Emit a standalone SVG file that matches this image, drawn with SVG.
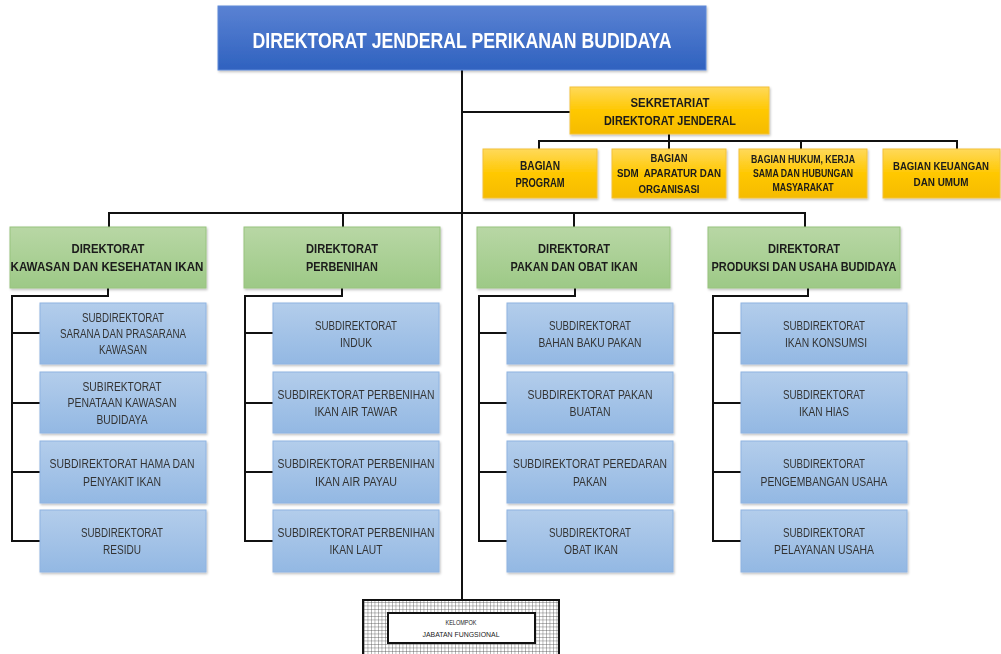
<svg xmlns="http://www.w3.org/2000/svg" width="1001" height="654" viewBox="0 0 1001 654">
<style>
text{font-family:"Liberation Sans",Arial,sans-serif;text-anchor:middle}
.title{font-size:22px;font-weight:bold;fill:#fff}
.gold{font-size:13px;font-weight:bold;fill:#1a1a1a}
.gold-s{font-size:11.5px;font-weight:bold;fill:#1a1a1a}
.gold-k{font-size:11px;font-weight:bold;fill:#1a1a1a}
.green{font-size:13px;font-weight:bold;fill:#1a1a1a}
.sub{font-size:12.5px;fill:#333}
.kel{font-size:8px;fill:#222}
.ln{stroke:#111;stroke-width:2;fill:none}
.goldbox{fill:url(#gGold);stroke:#f3c23a;stroke-width:1}
.greenbox{fill:url(#gGreen);stroke:#98c47f;stroke-width:1}
.subbox{fill:url(#gBlue);stroke:#8fb4e2;stroke-width:1}
</style>
<defs>
<linearGradient id="gTitle" x1="0" y1="0" x2="0" y2="1"><stop offset="0" stop-color="#5a82d3"/><stop offset="1" stop-color="#2f62bf"/></linearGradient>
<linearGradient id="gGold" x1="0" y1="0" x2="0" y2="1"><stop offset="0" stop-color="#ffd95a"/><stop offset="0.5" stop-color="#ffc800"/><stop offset="1" stop-color="#f5bb00"/></linearGradient>
<linearGradient id="gGreen" x1="0" y1="0" x2="0" y2="1"><stop offset="0" stop-color="#b8d7a5"/><stop offset="1" stop-color="#9dc986"/></linearGradient>
<linearGradient id="gBlue" x1="0" y1="0" x2="0" y2="1"><stop offset="0" stop-color="#b3cdeb"/><stop offset="1" stop-color="#93b8e3"/></linearGradient>
<pattern id="grid" width="3.5" height="3.5" patternUnits="userSpaceOnUse"><rect width="3.5" height="3.5" fill="#fff"/><path d="M0 0H3.5M0 0V3.5" stroke="#555" stroke-width="0.8"/></pattern>
<filter id="sh" x="-5%" y="-5%" width="110%" height="120%"><feDropShadow dx="1" dy="1.5" stdDeviation="1" flood-color="#000" flood-opacity="0.25"/></filter>
</defs>
<rect width="1001" height="654" fill="#fff"/>

<g id="connectors" class="ln">
<path d="M462 70V600"/>
<path d="M462 112H570"/>
<path d="M669 134V141M539 149V141H957V149M669 141V149M801 141V149"/>
<path d="M109 227V213H805V227M343 213V227M574 213V227"/>
<path d="M108 288V296H12V541H40M12 333H40M12 403H40M12 472H40"/>
<path d="M342 288V296H245V541H273M245 333H273M245 403H273M245 472H273"/>
<path d="M575 288V296H479V541H507M479 333H507M479 403H507M479 472H507"/>
<path d="M808 288V296H713V541H741M713 333H741M713 403H741M713 472H741"/>
</g>

<g id="dirjen" filter="url(#sh)"><rect x="218" y="6" width="488" height="64" fill="url(#gTitle)" stroke="#5f8ad8" stroke-width="1"/><text class="title" x="462" y="48" textLength="419" lengthAdjust="spacingAndGlyphs">DIREKTORAT JENDERAL PERIKANAN BUDIDAYA</text></g>

<g id="sekretariat" filter="url(#sh)"><rect class="goldbox" x="570" y="87" width="199" height="47"/><text class="gold" x="670" y="107" textLength="79" lengthAdjust="spacingAndGlyphs">SEKRETARIAT</text><text class="gold" x="670" y="125" textLength="132" lengthAdjust="spacingAndGlyphs">DIREKTORAT JENDERAL</text></g>

<g id="bagian-program" filter="url(#sh)"><rect class="goldbox" x="483" y="149" width="114" height="49"/><text class="gold" x="540" y="170" textLength="40" lengthAdjust="spacingAndGlyphs">BAGIAN</text><text class="gold" x="540" y="187" textLength="49" lengthAdjust="spacingAndGlyphs">PROGRAM</text></g>
<g id="bagian-sdm" filter="url(#sh)"><rect class="goldbox" x="612" y="149" width="114" height="49"/><text class="gold-s" x="669" y="162" textLength="37" lengthAdjust="spacingAndGlyphs">BAGIAN</text><text class="gold-s" x="669" y="177" textLength="104" lengthAdjust="spacingAndGlyphs" xml:space="preserve">SDM  APARATUR DAN</text><text class="gold-s" x="669" y="193" textLength="61" lengthAdjust="spacingAndGlyphs">ORGANISASI</text></g>
<g id="bagian-hukum" filter="url(#sh)"><rect class="goldbox" x="739" y="149" width="128" height="49"/><text class="gold-s" x="803" y="163" textLength="104" lengthAdjust="spacingAndGlyphs">BAGIAN HUKUM, KERJA</text><text class="gold-s" x="803" y="177" textLength="100" lengthAdjust="spacingAndGlyphs">SAMA DAN HUBUNGAN</text><text class="gold-s" x="803" y="191" textLength="61" lengthAdjust="spacingAndGlyphs">MASYARAKAT</text></g>
<g id="bagian-keuangan" filter="url(#sh)"><rect class="goldbox" x="883" y="149" width="117" height="49"/><text class="gold-k" x="941" y="170" textLength="96" lengthAdjust="spacingAndGlyphs">BAGIAN KEUANGAN</text><text class="gold-k" x="941" y="186" textLength="55" lengthAdjust="spacingAndGlyphs">DAN UMUM</text></g>

<g id="dir-kawasan" filter="url(#sh)"><rect class="greenbox" x="10" y="227" width="196" height="61"/><text class="green" x="108" y="253" textLength="73" lengthAdjust="spacingAndGlyphs">DIREKTORAT</text><text class="green" x="107" y="271" textLength="193" lengthAdjust="spacingAndGlyphs">KAWASAN DAN KESEHATAN IKAN</text></g>
<g id="dir-perbenihan" filter="url(#sh)"><rect class="greenbox" x="244" y="227" width="196" height="61"/><text class="green" x="342" y="253" textLength="72" lengthAdjust="spacingAndGlyphs">DIREKTORAT</text><text class="green" x="342" y="271" textLength="72" lengthAdjust="spacingAndGlyphs">PERBENIHAN</text></g>
<g id="dir-pakan" filter="url(#sh)"><rect class="greenbox" x="477" y="227" width="193" height="61"/><text class="green" x="574" y="253" textLength="72" lengthAdjust="spacingAndGlyphs">DIREKTORAT</text><text class="green" x="574" y="271" textLength="127" lengthAdjust="spacingAndGlyphs">PAKAN DAN OBAT IKAN</text></g>
<g id="dir-produksi" filter="url(#sh)"><rect class="greenbox" x="708" y="227" width="192" height="61"/><text class="green" x="804" y="253" textLength="72" lengthAdjust="spacingAndGlyphs">DIREKTORAT</text><text class="green" x="804" y="271" textLength="185" lengthAdjust="spacingAndGlyphs">PRODUKSI DAN USAHA BUDIDAYA</text></g>

<g id="sub-a1" filter="url(#sh)"><rect class="subbox" x="40" y="303" width="166" height="61"/><text class="sub" x="123" y="322" textLength="82" lengthAdjust="spacingAndGlyphs">SUBDIREKTORAT</text><text class="sub" x="123" y="338" textLength="126" lengthAdjust="spacingAndGlyphs">SARANA DAN PRASARANA</text><text class="sub" x="123" y="354" textLength="48" lengthAdjust="spacingAndGlyphs">KAWASAN</text></g>
<g id="sub-a2" filter="url(#sh)"><rect class="subbox" x="40" y="372" width="166" height="61"/><text class="sub" x="122" y="391" textLength="79" lengthAdjust="spacingAndGlyphs">SUBIREKTORAT</text><text class="sub" x="122" y="407" textLength="109" lengthAdjust="spacingAndGlyphs">PENATAAN KAWASAN</text><text class="sub" x="122" y="424" textLength="51" lengthAdjust="spacingAndGlyphs">BUDIDAYA</text></g>
<g id="sub-a3" filter="url(#sh)"><rect class="subbox" x="40" y="441" width="166" height="62"/><text class="sub" x="122" y="468" textLength="145" lengthAdjust="spacingAndGlyphs">SUBDIREKTORAT HAMA DAN</text><text class="sub" x="122" y="486" textLength="78" lengthAdjust="spacingAndGlyphs">PENYAKIT IKAN</text></g>
<g id="sub-a4" filter="url(#sh)"><rect class="subbox" x="40" y="510" width="166" height="62"/><text class="sub" x="122" y="537" textLength="82" lengthAdjust="spacingAndGlyphs">SUBDIREKTORAT</text><text class="sub" x="122" y="554" textLength="38" lengthAdjust="spacingAndGlyphs">RESIDU</text></g>

<g id="sub-b1" filter="url(#sh)"><rect class="subbox" x="273" y="303" width="166" height="61"/><text class="sub" x="356" y="330" textLength="82" lengthAdjust="spacingAndGlyphs">SUBDIREKTORAT</text><text class="sub" x="356" y="347" textLength="32" lengthAdjust="spacingAndGlyphs">INDUK</text></g>
<g id="sub-b2" filter="url(#sh)"><rect class="subbox" x="273" y="372" width="166" height="61"/><text class="sub" x="356" y="399" textLength="157" lengthAdjust="spacingAndGlyphs">SUBDIREKTORAT PERBENIHAN</text><text class="sub" x="356" y="416" textLength="83" lengthAdjust="spacingAndGlyphs">IKAN AIR TAWAR</text></g>
<g id="sub-b3" filter="url(#sh)"><rect class="subbox" x="273" y="441" width="166" height="62"/><text class="sub" x="356" y="468" textLength="157" lengthAdjust="spacingAndGlyphs">SUBDIREKTORAT PERBENIHAN</text><text class="sub" x="356" y="486" textLength="82" lengthAdjust="spacingAndGlyphs">IKAN AIR PAYAU</text></g>
<g id="sub-b4" filter="url(#sh)"><rect class="subbox" x="273" y="510" width="166" height="62"/><text class="sub" x="356" y="537" textLength="157" lengthAdjust="spacingAndGlyphs">SUBDIREKTORAT PERBENIHAN</text><text class="sub" x="356" y="554" textLength="53" lengthAdjust="spacingAndGlyphs">IKAN LAUT</text></g>

<g id="sub-c1" filter="url(#sh)"><rect class="subbox" x="507" y="303" width="166" height="61"/><text class="sub" x="590" y="330" textLength="82" lengthAdjust="spacingAndGlyphs">SUBDIREKTORAT</text><text class="sub" x="590" y="347" textLength="103" lengthAdjust="spacingAndGlyphs">BAHAN BAKU PAKAN</text></g>
<g id="sub-c2" filter="url(#sh)"><rect class="subbox" x="507" y="372" width="166" height="61"/><text class="sub" x="590" y="399" textLength="125" lengthAdjust="spacingAndGlyphs">SUBDIREKTORAT PAKAN</text><text class="sub" x="590" y="416" textLength="41" lengthAdjust="spacingAndGlyphs">BUATAN</text></g>
<g id="sub-c3" filter="url(#sh)"><rect class="subbox" x="507" y="441" width="166" height="62"/><text class="sub" x="590" y="468" textLength="154" lengthAdjust="spacingAndGlyphs">SUBDIREKTORAT PEREDARAN</text><text class="sub" x="590" y="486" textLength="34" lengthAdjust="spacingAndGlyphs">PAKAN</text></g>
<g id="sub-c4" filter="url(#sh)"><rect class="subbox" x="507" y="510" width="166" height="62"/><text class="sub" x="590" y="537" textLength="82" lengthAdjust="spacingAndGlyphs">SUBDIREKTORAT</text><text class="sub" x="591" y="554" textLength="54" lengthAdjust="spacingAndGlyphs">OBAT IKAN</text></g>

<g id="sub-d1" filter="url(#sh)"><rect class="subbox" x="741" y="303" width="166" height="61"/><text class="sub" x="824" y="330" textLength="82" lengthAdjust="spacingAndGlyphs">SUBDIREKTORAT</text><text class="sub" x="826" y="347" textLength="82" lengthAdjust="spacingAndGlyphs">IKAN KONSUMSI</text></g>
<g id="sub-d2" filter="url(#sh)"><rect class="subbox" x="741" y="372" width="166" height="61"/><text class="sub" x="824" y="399" textLength="82" lengthAdjust="spacingAndGlyphs">SUBDIREKTORAT</text><text class="sub" x="824" y="416" textLength="50" lengthAdjust="spacingAndGlyphs">IKAN HIAS</text></g>
<g id="sub-d3" filter="url(#sh)"><rect class="subbox" x="741" y="441" width="166" height="62"/><text class="sub" x="824" y="468" textLength="82" lengthAdjust="spacingAndGlyphs">SUBDIREKTORAT</text><text class="sub" x="824" y="486" textLength="127" lengthAdjust="spacingAndGlyphs">PENGEMBANGAN USAHA</text></g>
<g id="sub-d4" filter="url(#sh)"><rect class="subbox" x="741" y="510" width="166" height="62"/><text class="sub" x="824" y="537" textLength="82" lengthAdjust="spacingAndGlyphs">SUBDIREKTORAT</text><text class="sub" x="824" y="554" textLength="100" lengthAdjust="spacingAndGlyphs">PELAYANAN USAHA</text></g>

<g id="kelompok"><rect x="363" y="600" width="196" height="56" fill="url(#grid)" stroke="#111" stroke-width="2"/><rect x="388" y="613" width="147" height="30" fill="#fff" stroke="#111" stroke-width="2"/><text class="kel" x="461" y="625" textLength="31" lengthAdjust="spacingAndGlyphs">KELOMPOK</text><text class="kel" x="461" y="637" textLength="77" lengthAdjust="spacingAndGlyphs">JABATAN FUNGSIONAL</text></g>
</svg>
